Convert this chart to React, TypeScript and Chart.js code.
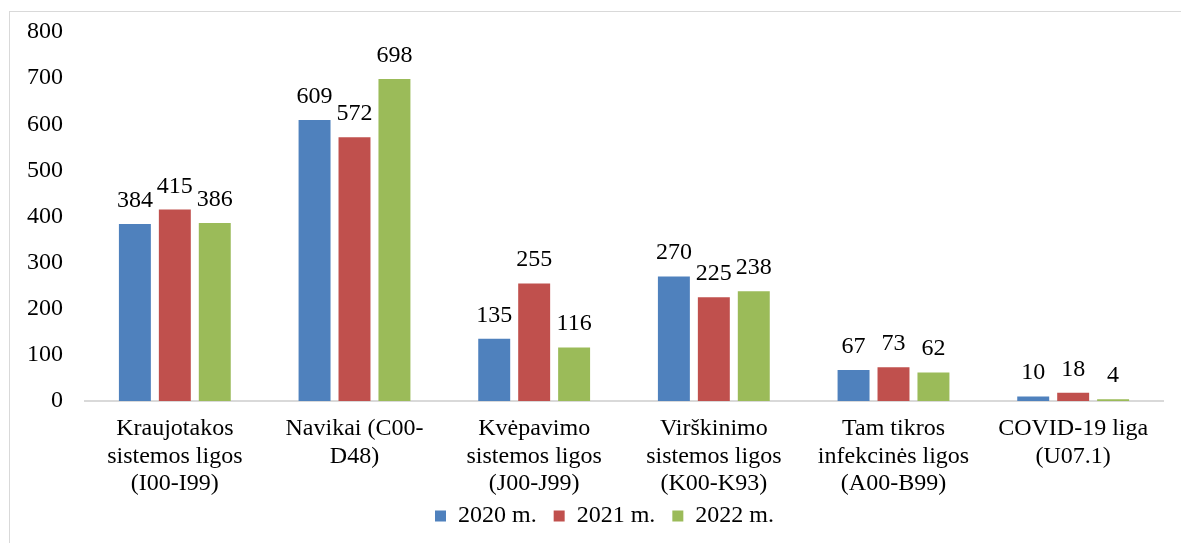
import React, { useEffect, useRef } from "react";
import { Chart, registerables } from "chart.js";

Chart.register(...registerables);

const categories: string[][] = [
  ["Kraujotakos", "sistemos ligos", "(I00-I99)"],
  ["Navikai (C00-", "D48)"],
  ["Kvėpavimo", "sistemos ligos", "(J00-J99)"],
  ["Virškinimo", "sistemos ligos", "(K00-K93)"],
  ["Tam tikros", "infekcinės ligos", "(A00-B99)"],
  ["COVID-19 liga", "(U07.1)"],
];
const seriesNames = ["2020 m.", "2021 m.", "2022 m."];
const values2020 = [384, 609, 135, 270, 67, 10];
const values2021 = [415, 572, 255, 225, 73, 18];
const values2022 = [386, 698, 116, 238, 62, 4];
const seriesColors = ["#4F81BD", "#C0504D", "#9BBB59"];
const yMin = 0;
const yMax = 800;
const yStep = 100;

const FONT = "'Liberation Serif', 'Times New Roman', serif";
const FS = 24;

const valueLabels = {
  id: "valueLabels",
  afterDatasetsDraw(chart: any) {
    const ctx = chart.ctx;
    ctx.save();
    ctx.font = `${FS}px ${FONT}`;
    ctx.fillStyle = "#000";
    ctx.textAlign = "center";
    ctx.textBaseline = "alphabetic";
    chart.data.datasets.forEach((ds: any, di: number) => {
      const meta = chart.getDatasetMeta(di);
      meta.data.forEach((el: any, i: number) => {
        ctx.fillText(String(ds.data[i]), el.x, el.y - 17);
      });
    });
    ctx.restore();
  },
};

const layoutTweaks = {
  id: "layoutTweaks",
  afterLayout(chart: any) {
    const lg = chart.legend;
    if (lg) {
      lg.left += 23;
      lg.right += 23;
    }
    const x = chart.scales.x;
    if (x) x.bottom = chart.height;
  },
};

export default function App() {
  const ref = useRef<HTMLCanvasElement | null>(null);
  useEffect(() => {
    if (!ref.current) return;
    const data = [values2020, values2021, values2022];
    const chart = new Chart(ref.current, {
      type: "bar",
      data: {
        labels: categories,
        datasets: seriesNames.map((n, i) => ({
          label: n,
          data: data[i],
          backgroundColor: seriesColors[i],
          categoryPercentage: 0.667,
          barPercentage: 0.8,
        })),
      },
      options: {
        responsive: false,
        animation: false,
        layout: { padding: { top: 32, left: 0, right: 18, bottom: 5 } },
        plugins: {
          tooltip: { enabled: false },
          legend: {
            position: "bottom",
            labels: {
              boxWidth: 11,
              boxHeight: 11,
              padding: 17,
              color: "#000",
              font: { family: FONT, size: FS },
            },
          },
        },
        scales: {
          x: {
            grid: { display: false, drawTicks: false },
            border: { display: true, color: "#d9d9d9", width: 2 },
            ticks: {
              autoSkip: false,
              maxRotation: 0,
              padding: 14,
              color: "#000",
              font: { family: FONT, size: FS, lineHeight: 1.15 },
            },
            afterFit: (s: any) => {
              s.height = 86;
            },
          },
          y: {
            min: yMin,
            max: yMax,
            grid: { display: false, drawTicks: false },
            border: { display: false },
            ticks: {
              stepSize: yStep,
              padding: 22,
              color: "#000",
              font: { family: FONT, size: FS, lineHeight: 0.6 },
            },
            afterFit: (s: any) => {
              s.width = 85;
            },
          },
        },
      },
      plugins: [valueLabels, layoutTweaks],
    } as any);
    return () => chart.destroy();
  }, []);
  return (
    <div>
      <div
        style={{
          position: "fixed",
          left: 9,
          top: 11,
          width: 1300,
          height: 700,
          border: "1px solid #d9d9d9",
          boxSizing: "border-box",
        }}
      />
      <canvas
        ref={ref}
        width={1181}
        height={543}
        style={{ position: "fixed", left: 0, top: 0, display: "block" }}
      />
    </div>
  );
}
